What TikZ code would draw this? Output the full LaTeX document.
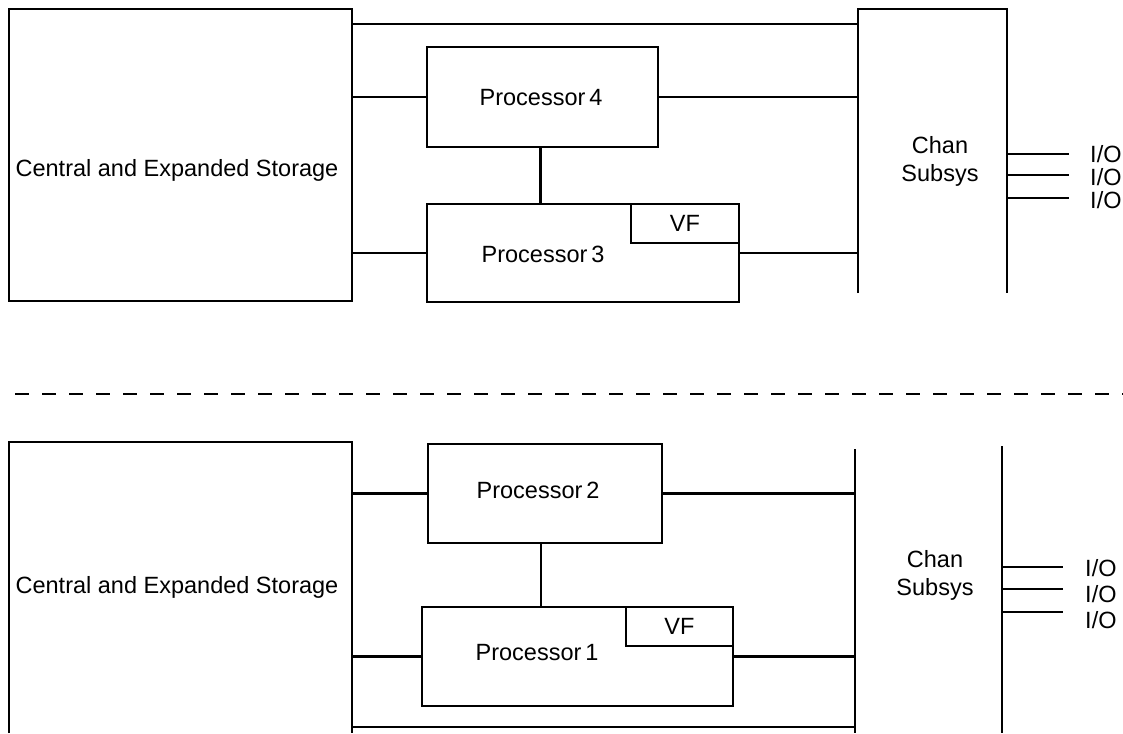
\documentclass[tikz,border=0pt]{standalone}
\usepackage{fontspec}
\setmainfont{Liberation Sans}
\tikzset{
  unit/.style={draw,line width=2.5pt,inner sep=0pt,outer sep=0pt},
  frame/.style={inner sep=0pt,outer sep=0pt},
  wire/.style={line width=2.5pt},
  lbl/.style={font=\fontsize{23.5}{28}\selectfont,inner sep=0pt,align=center},
}

\begin{document}
\begin{tikzpicture}[x=1pt,y=-1pt]
\useasboundingbox (0,0) rectangle (1123,733);

\node [unit,minimum width=343pt,minimum height=292pt] (stA) at (180.5,155) {};
\node [unit,minimum width=231pt,minimum height=100pt] (p4) at (542.5,97) {};
\node [unit,minimum width=312pt,minimum height=98pt] (p3) at (583,253) {};
\node [unit,minimum width=108pt,minimum height=39pt,lbl] (vf3) at (685,223.5) {VF};
\node [frame,minimum width=149pt,minimum height=284pt] (chA) at (932.5,151) {};
\node [lbl] (stAt) at (177,170) {Central and Expanded Storage};
\node [lbl] (p4t) at (541,98) {Processor\,4};
\node [lbl] (p3t) at (543,254) {Processor\,3};
\node [lbl] (chAt) at (940,161) {Chan\\Subsys};

\draw [wire] (chA.south west) |- (chA.north east) -- (chA.south east);
\draw [wire] ([yshift=-15pt]stA.north east) -- ([yshift=-15pt]chA.north west);
\draw [wire] (p4.west -| stA.east) -- (p4.west);
\draw [wire] (p4.east) -- (p4.east -| chA.west);
\draw [wire] (p3.west -| stA.east) -- (p3.west);
\draw [wire] (p3.east) -- (p3.east -| chA.west);
\draw [wire] ([xshift=-2pt]p4.south) -- ([xshift=-2pt]p4.south |- p3.north);
\foreach \ly/\ty [count=\i] in {154/154,175/177,198/200} {
  \node [lbl,anchor=west] (ioA\i) at (1090,\ty) {I/O};
  \draw [wire] (chA.east |- 0,\ly) -- (1069,\ly);
}

\draw [wire,dash pattern=on 14pt off 13pt,dash phase=20pt] (8,394) coordinate (cutL) -- (1123,394) coordinate (cutR);

\node [frame,minimum width=343pt,minimum height=291pt] (stB) at (180.5,587.5) {};
\node [unit,minimum width=234pt,minimum height=99pt] (p2) at (545,493.5) {};
\node [unit,minimum width=311pt,minimum height=99pt] (p1) at (577.5,656.5) {};
\node [unit,minimum width=107pt,minimum height=39pt,lbl] (vf1) at (679.5,626.5) {VF};
\node [frame,minimum width=147pt,minimum height=287pt] (chB) at (928.5,589.5) {};
\node [lbl] (stBt) at (177,587) {Central and Expanded Storage};
\node [lbl] (p2t) at (538,490) {Processor\,2};
\node [lbl] (p1t) at (537,653) {Processor\,1};
\node [lbl] (chBt) at (935,575) {Chan\\Subsys};

\draw [wire] (stB.south west) |- (stB.north east) -- (stB.south east);
\draw [wire] ([yshift=-3pt]chB.north west) -- (chB.south west);
\draw [wire] (chB.north east) -- (chB.south east);
\draw [wire] ([yshift=6pt]stB.south east) -- ([yshift=6pt]chB.south west);
\draw [wire] (p2.west -| stB.east) -- (p2.west);
\draw [wire] (p2.east) -- (p2.east -| chB.west);
\draw [wire] (p1.west -| stB.east) -- (p1.west);
\draw [wire] (p1.east) -- (p1.east -| chB.west);
\draw [wire] ([xshift=-4pt]p2.south) -- ([xshift=-4pt]p2.south |- p1.north);
\foreach \ly/\ty [count=\i] in {567/568,589/594,612/620} {
  \node [lbl,anchor=west] (ioB\i) at (1085,\ty) {I/O};
  \draw [wire] (chB.east |- 0,\ly) -- (1063,\ly);
}

\end{tikzpicture}
\end{document}
